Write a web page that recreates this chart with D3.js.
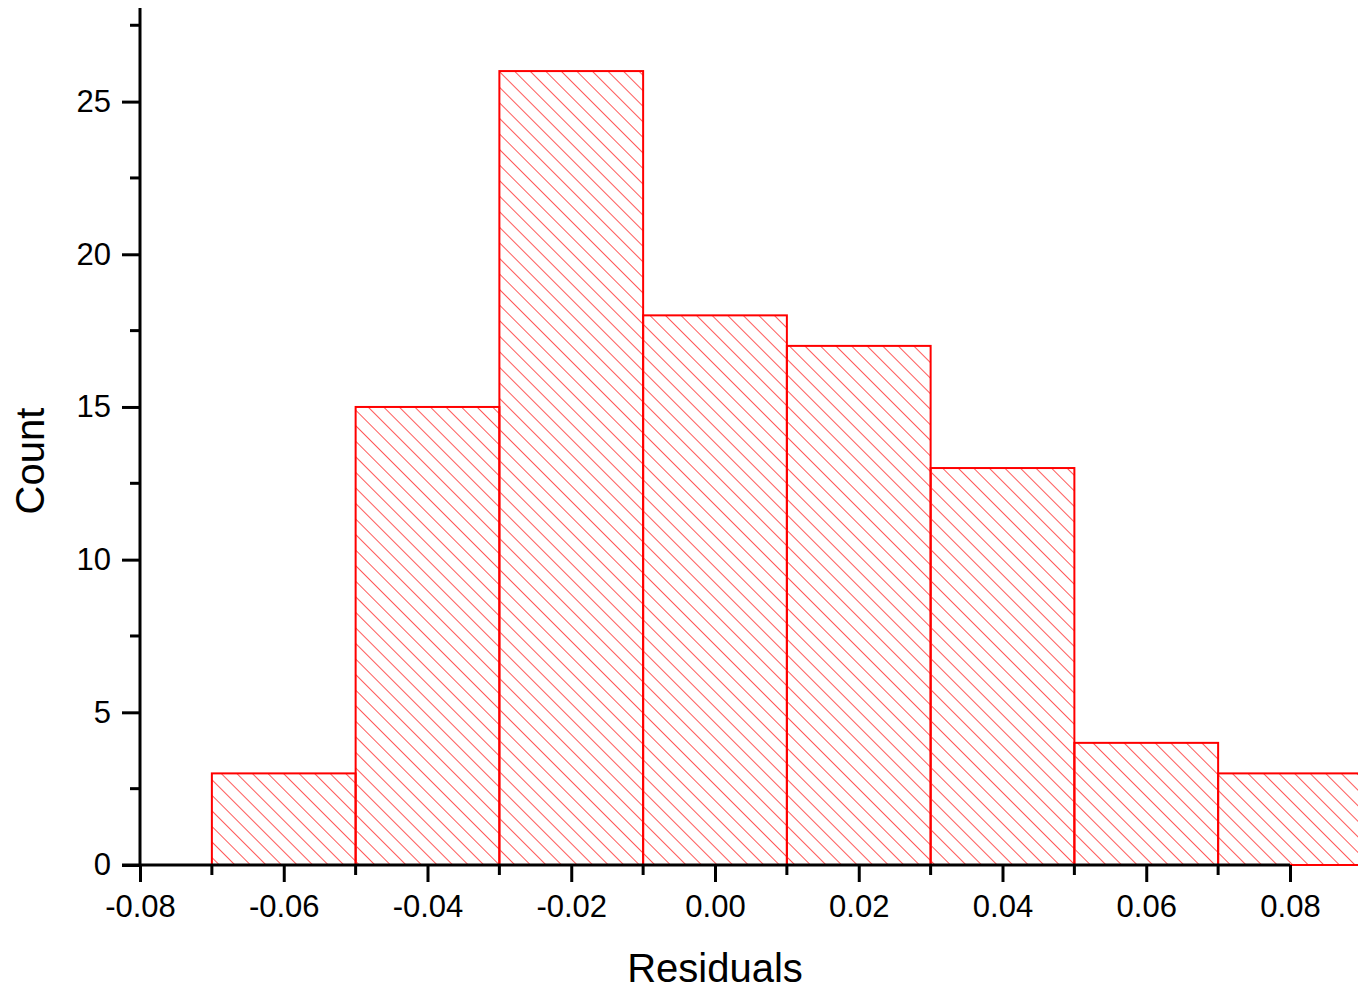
<!DOCTYPE html>
<html>
<head>
<meta charset="utf-8">
<script src="https://cdn.jsdelivr.net/npm/d3@7"></script>
<style>
  html, body { margin: 0; padding: 0; background: #fff; }
  svg { display: block; font-family: "Liberation Sans", Arial, sans-serif; }
</style>
</head>
<body>
<svg id="chart" width="1358" height="990"></svg>
<script>
// Histogram of residuals: bin edges and counts
const binStarts = [-0.07, -0.05, -0.03, -0.01, 0.01, 0.03, 0.05, 0.07];
const binWidth = 0.02;
const counts = [3, 15, 26, 18, 17, 13, 4, 3];
const xMajorTicks = [-0.08, -0.06, -0.04, -0.02, 0.00, 0.02, 0.04, 0.06, 0.08];
const yMajorTicks = [0, 5, 10, 15, 20, 25];

const svg = d3.select("#chart");

const x = d3.scaleLinear().domain([-0.08, 0.08]).range([140, 1290]);
const y = d3.scaleLinear().domain([0, 28]).range([865, 10]);

// plain hyphen for negative numbers
const locale = d3.formatLocale({ decimal: ".", thousands: ",", grouping: [3], currency: ["", ""], minus: "-" });
const fmt = locale.format(".2f");

// diagonal hatch fill
const defs = svg.append("defs");
const pat = defs.append("pattern")
  .attr("id", "hatch")
  .attr("patternUnits", "userSpaceOnUse")
  .attr("width", 11).attr("height", 11)
  .attr("patternTransform", "rotate(45)");
pat.append("line")
  .attr("x1", 0).attr("y1", 5.5).attr("x2", 11).attr("y2", 5.5)
  .attr("stroke", "#ff5a5a").attr("stroke-width", 1);

// bars
svg.append("g").selectAll("rect")
  .data(binStarts.map((s, i) => ({ x0: s, x1: s + binWidth, n: counts[i] })))
  .join("rect")
  .attr("x", d => x(d.x0))
  .attr("y", d => y(d.n))
  .attr("width", d => x(d.x1) - x(d.x0))
  .attr("height", d => y(0) - y(d.n))
  .attr("fill", "url(#hatch)")
  .attr("stroke", "#ff0000")
  .attr("stroke-width", 2);

// x axis
const xAxis = d3.axisBottom(x)
  .tickValues(xMajorTicks)
  .tickFormat(fmt)
  .tickSizeInner(17)
  .tickSizeOuter(0)
  .tickPadding(13);
const gx = svg.append("g").attr("transform", `translate(0,${y(0)})`).call(xAxis);
gx.select(".domain").remove();
gx.selectAll(".tick line").attr("stroke", "#000").attr("stroke-width", 3);
gx.selectAll(".tick text").attr("font-size", 31).attr("fill", "#000")
  .attr("font-family", "Liberation Sans, Arial, sans-serif");

// x minor ticks
const xMinor = d3.range(-0.07, 0.08, 0.02);
svg.append("g").selectAll("line").data(xMinor).join("line")
  .attr("x1", d => x(d)).attr("x2", d => x(d))
  .attr("y1", y(0)).attr("y2", y(0) + 10)
  .attr("stroke", "#000").attr("stroke-width", 3);

// y axis
const yAxis = d3.axisLeft(y)
  .tickValues(yMajorTicks)
  .tickSizeInner(18)
  .tickSizeOuter(0)
  .tickPadding(11);
const gy = svg.append("g").attr("transform", `translate(${x(-0.08)},0)`).call(yAxis);
gy.select(".domain").remove();
gy.selectAll(".tick line").attr("stroke", "#000").attr("stroke-width", 3);
gy.selectAll(".tick text").attr("font-size", 31).attr("fill", "#000")
  .attr("font-family", "Liberation Sans, Arial, sans-serif");

// y minor ticks
const yMinor = d3.range(2.5, 28, 5);
svg.append("g").selectAll("line").data(yMinor).join("line")
  .attr("x1", x(-0.08) - 10).attr("x2", x(-0.08))
  .attr("y1", d => y(d)).attr("y2", d => y(d))
  .attr("stroke", "#000").attr("stroke-width", 3);

// axis lines
svg.append("line")
  .attr("x1", x(-0.08)).attr("x2", x(-0.08))
  .attr("y1", y(28) - 2).attr("y2", y(0) + 1.5)
  .attr("stroke", "#000").attr("stroke-width", 3);
svg.append("line")
  .attr("x1", x(-0.08) - 18).attr("x2", x(0.08))
  .attr("y1", y(0)).attr("y2", y(0))
  .attr("stroke", "#000").attr("stroke-width", 3);

// axis titles
svg.append("text")
  .attr("x", x(0)).attr("y", 982)
  .attr("text-anchor", "middle")
  .attr("font-size", 40)
  .text("Residuals");
svg.append("text")
  .attr("transform", `translate(44,461) rotate(-90)`)
  .attr("text-anchor", "middle")
  .attr("font-size", 40)
  .text("Count");
</script>
</body>
</html>
